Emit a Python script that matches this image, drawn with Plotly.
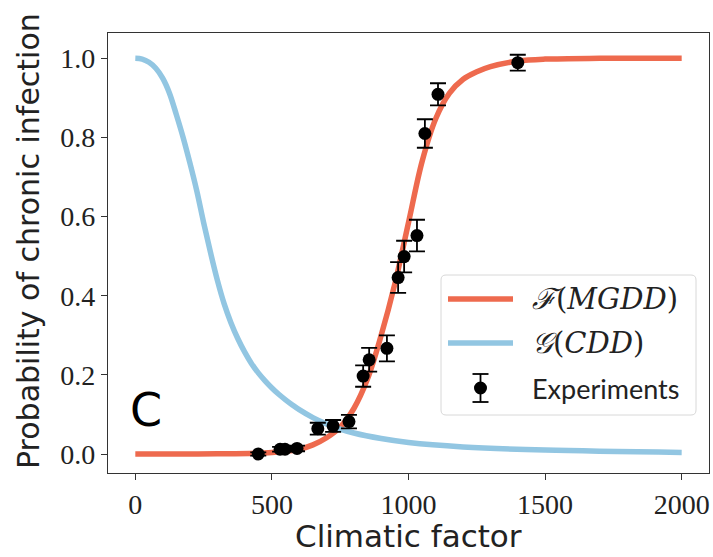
import plotly.graph_objects as go

# ---- data ----
f_x = [0, 300, 500, 600, 650, 700, 750, 800, 850, 900, 950, 1000, 1050, 1100, 1150, 1200, 1250, 1300, 1400, 1500, 1700, 2000]
f_y = [0.0, 0.0004, 0.004, 0.012, 0.023, 0.041, 0.068, 0.115, 0.19, 0.30, 0.43, 0.585, 0.74, 0.848, 0.912, 0.947, 0.966, 0.979, 0.993, 0.998, 1.0, 1.0]

g_x = [0, 25, 50, 75, 100, 125, 150, 175, 200, 225, 250, 275, 300, 325, 350, 375, 400, 425, 450, 475, 500,
       525, 550, 575, 600, 650, 700, 750, 800, 900, 1000, 1200, 1500, 2000]
g_y = [1.0, 0.998, 0.99, 0.975, 0.95, 0.912, 0.858, 0.80, 0.735, 0.665, 0.585, 0.51, 0.44, 0.38, 0.332, 0.292,
       0.258, 0.229, 0.205, 0.185, 0.167, 0.151, 0.137, 0.124, 0.112, 0.092, 0.076, 0.063, 0.053, 0.039, 0.029,
       0.018, 0.01, 0.004]

exp_x = [450, 530, 548, 592, 668, 724, 782, 834, 856, 921, 962, 984, 1031, 1060, 1108, 1400]
exp_y = [0.0, 0.012, 0.012, 0.014, 0.064, 0.071, 0.082, 0.197, 0.238, 0.267, 0.446, 0.499, 0.552, 0.810, 0.909, 0.989]
exp_err = [0.004, 0.006, 0.006, 0.007, 0.015, 0.015, 0.017, 0.027, 0.03, 0.033, 0.039, 0.04, 0.04, 0.036, 0.028, 0.02]

x_ticks = [0, 500, 1000, 1500, 2000]
y_ticks = [0.0, 0.2, 0.4, 0.6, 0.8, 1.0]
y_tick_text = ["0.0", "0.2", "0.4", "0.6", "0.8", "1.0"]

RED = "#ee6a4e"
BLUE = "#92c6e2"
W, H = 713, 557
L, R, T, B = 108, 4, 33, 84
PW, PH = W - L - R, H - T - B

def px(x):
    return (x - L) / PW

def py(y):
    return (H - B - y) / PH

fig = go.Figure()
fig.add_trace(go.Scatter(x=f_x, y=f_y, mode="lines", line=dict(color=RED, width=5.5, shape="spline", smoothing=1.0),
                         name="F(MGDD)", showlegend=False))
fig.add_trace(go.Scatter(x=g_x, y=g_y, mode="lines", line=dict(color=BLUE, width=5.5, shape="spline", smoothing=1.0),
                         name="G(CDD)", showlegend=False))
fig.add_trace(go.Scatter(x=exp_x, y=exp_y, mode="markers", marker=dict(color="black", size=13),
                         error_y=dict(type="data", array=exp_err, color="black", thickness=1.8, width=8),
                         name="Experiments", showlegend=False))

tickfont = dict(family="Liberation Serif", size=28, color="#222")
fig.update_xaxes(range=[-100, 2100], tickvals=x_ticks, ticks="outside", ticklen=6, tickcolor="#333",
                 showline=True, linecolor="#333", linewidth=1.2, mirror=True, showgrid=False, zeroline=False,
                 tickfont=tickfont)
fig.update_yaxes(range=[-0.048, 1.064], tickvals=y_ticks, ticktext=y_tick_text, ticks="outside", ticklen=6,
                 tickcolor="#333", showline=True, linecolor="#333", linewidth=1.2, mirror=True, showgrid=False,
                 zeroline=False, tickfont=tickfont)

shapes = []
# legend box (rounded)
bx0, bx1, by0, by1, r = 441, 696, 275, 415, 5
path = (f"M {px(bx0 + r)} {py(by0)} L {px(bx1 - r)} {py(by0)} Q {px(bx1)} {py(by0)} {px(bx1)} {py(by0 + r)} "
        f"L {px(bx1)} {py(by1 - r)} Q {px(bx1)} {py(by1)} {px(bx1 - r)} {py(by1)} "
        f"L {px(bx0 + r)} {py(by1)} Q {px(bx0)} {py(by1)} {px(bx0)} {py(by1 - r)} "
        f"L {px(bx0)} {py(by0 + r)} Q {px(bx0)} {py(by0)} {px(bx0 + r)} {py(by0)} Z")
shapes.append(dict(type="path", xref="paper", yref="paper", path=path, fillcolor="rgba(255,255,255,0.85)",
                   line=dict(color="#d8d8d8", width=1)))
shapes.append(dict(type="line", xref="paper", yref="paper", x0=px(448), x1=px(513), y0=py(299), y1=py(299),
                   line=dict(color=RED, width=5.5)))
shapes.append(dict(type="line", xref="paper", yref="paper", x0=px(448), x1=px(513), y0=py(343), y1=py(343),
                   line=dict(color=BLUE, width=5.5)))
# errorbar legend symbol
cx, cy = 480.5, 388
shapes.append(dict(type="line", xref="paper", yref="paper", x0=px(cx), x1=px(cx), y0=py(cy - 14), y1=py(cy + 14),
                   line=dict(color="black", width=1.8)))
for yy in (cy - 14, cy + 14):
    shapes.append(dict(type="line", xref="paper", yref="paper", x0=px(cx - 8), x1=px(cx + 8), y0=py(yy), y1=py(yy),
                       line=dict(color="black", width=1.8)))
shapes.append(dict(type="circle", xref="paper", yref="paper", x0=px(cx - 6.5), x1=px(cx + 6.5), y0=py(cy - 6.5),
                   y1=py(cy + 6.5), fillcolor="black", line=dict(color="black", width=0)))

annotations = [
    dict(text="<i>ℱ</i>(<i>MGDD</i>)", x=px(530), y=py(299), xref="paper", yref="paper", xanchor="left",
         yanchor="middle", showarrow=False, font=dict(family="DejaVu Serif", size=29, color="#222")),
    dict(text="<i>𝒢</i>(<i>CDD</i>)", x=px(530), y=py(343), xref="paper", yref="paper", xanchor="left",
         yanchor="middle", showarrow=False, font=dict(family="DejaVu Serif", size=29, color="#222")),
    dict(text="Experiments", x=px(530), y=py(388), xref="paper", yref="paper", xanchor="left",
         yanchor="middle", showarrow=False, font=dict(family="Lato", size=27, color="#222")),
    dict(text="C", x=40, y=0.11, xref="x", yref="y", xanchor="center", yanchor="middle", showarrow=False,
         font=dict(family="DejaVu Sans", size=46, color="black")),
    dict(text="Climatic factor", x=0.5, y=py(536), xref="paper", yref="paper", xanchor="center",
         yanchor="middle", showarrow=False, font=dict(family="DejaVu Sans", size=31, color="#222")),
    dict(text="Probability of chronic infection", x=px(28), y=py(241), xref="paper", yref="paper",
         xanchor="center", yanchor="middle", textangle=-90, showarrow=False,
         font=dict(family="DejaVu Sans", size=30, color="#222")),
]

fig.update_layout(width=W, height=H, margin=dict(l=L, r=R, t=T, b=B), paper_bgcolor="white",
                  plot_bgcolor="white", shapes=shapes, annotations=annotations, showlegend=False)
fig.write_html("out.html")
